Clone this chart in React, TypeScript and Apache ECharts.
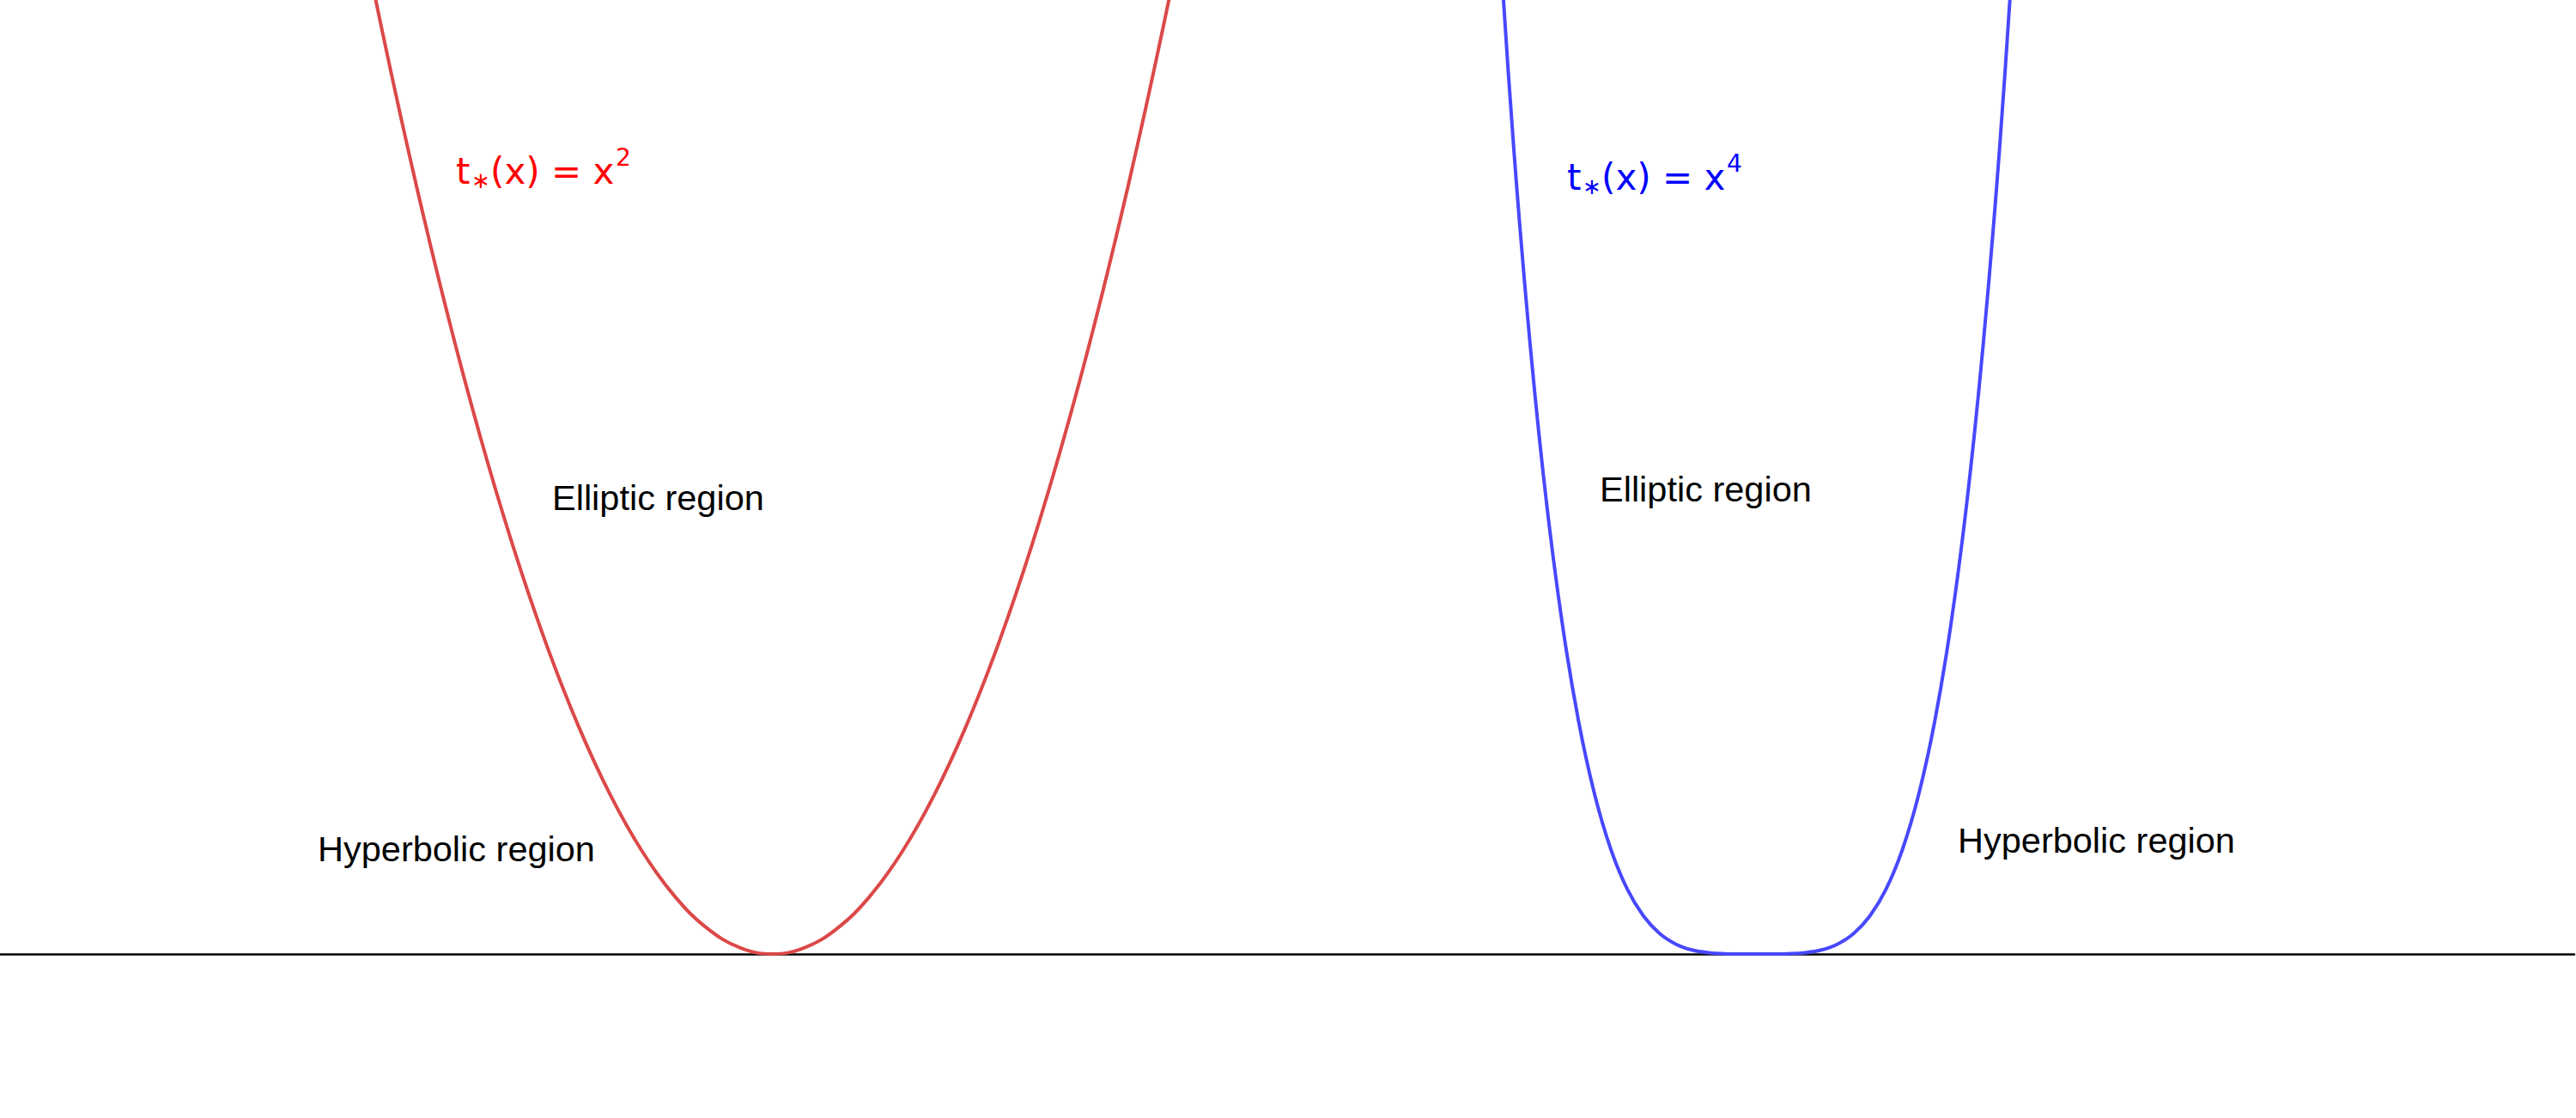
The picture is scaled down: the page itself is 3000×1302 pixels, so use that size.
import React, { useEffect, useRef } from "react";
import * as echarts from "echarts";

// Parabola t = x^2 (red curve), sample points
const redX = [-2.6, -2.4, -2.2, -2.0, -1.8, -1.6, -1.4, -1.2, -1.0, -0.8, -0.6, -0.4, -0.2, 0, 0.2, 0.4, 0.6, 0.8, 1.0, 1.2, 1.4, 1.6, 1.8, 2.0, 2.2, 2.4, 2.6];
const redT = [6.76, 5.76, 4.84, 4.0, 3.24, 2.56, 1.96, 1.44, 1.0, 0.64, 0.36, 0.16, 0.04, 0, 0.04, 0.16, 0.36, 0.64, 1.0, 1.44, 1.96, 2.56, 3.24, 4.0, 4.84, 5.76, 6.76];

// Quartic t = x^4 (blue curve), local x offsets and values
const blueX = [-1.6, -1.5, -1.4, -1.3, -1.2, -1.1, -1.0, -0.9, -0.8, -0.7, -0.6, -0.5, -0.4, -0.3, -0.2, -0.1, 0, 0.1, 0.2, 0.3, 0.4, 0.5, 0.6, 0.7, 0.8, 0.9, 1.0, 1.1, 1.2, 1.3, 1.4, 1.5, 1.6];
const blueT = [6.5536, 5.0625, 3.8416, 2.8561, 2.0736, 1.4641, 1.0, 0.6561, 0.4096, 0.2401, 0.1296, 0.0625, 0.0256, 0.0081, 0.0016, 0.0001, 0, 0.0001, 0.0016, 0.0081, 0.0256, 0.0625, 0.1296, 0.2401, 0.4096, 0.6561, 1.0, 1.4641, 2.0736, 2.8561, 3.8416, 5.0625, 6.5536];
const blueShift = 6.08;

const xRange = [-4.77, 11.13];
const tRange = [0, 6];

const regionLabels = ["Elliptic region", "Hyperbolic region"];

export default function App() {
  const ref = useRef<HTMLDivElement>(null);

  useEffect(() => {
    if (!ref.current) return;
    const chart = echarts.init(ref.current, null, { renderer: "svg" });

    const redData = redX.map((x, i) => [x, redT[i]]);
    const blueData = blueX.map((x, i) => [x + blueShift, blueT[i]]);

    const labelFont = "Liberation Sans, Arial, sans-serif";
    const mathFont = "DejaVu Sans, sans-serif";

    const regionText = (text: string, x: number, y: number) => ({
      type: "text",
      x,
      y,
      z: 10,
      style: {
        text,
        fontFamily: labelFont,
        fontSize: 41.5,
        fill: "#000",
        align: "left",
        verticalAlign: "middle",
      },
    });

    const formula = (x0: number, y0: number, color: string, power: string) => ({
      type: "group",
      x: x0,
      y: y0,
      children: [
        { type: "text", x: 0, y: 0, style: { text: "t", fontFamily: mathFont, fontSize: 42, fill: color, align: "left", verticalAlign: "middle" } },
        { type: "text", x: 18, y: 10, style: { text: "∗", fontFamily: mathFont, fontSize: 26, fill: color, align: "left", verticalAlign: "middle" } },
        { type: "text", x: 40, y: 0, style: { text: "(x) = x", fontFamily: mathFont, fontSize: 42, fill: color, align: "left", verticalAlign: "middle" } },
        { type: "text", x: 186, y: -16, style: { text: power, fontFamily: mathFont, fontSize: 28, fill: color, align: "left", verticalAlign: "middle" } },
      ],
    });

    chart.setOption({
      animation: false,
      backgroundColor: "#fff",
      grid: { left: 0, right: 2, top: 0, bottom: 191, containLabel: false },
      xAxis: {
        type: "value",
        min: xRange[0],
        max: xRange[1],
        axisLine: { show: true, onZero: false, lineStyle: { color: "#000", width: 2.5 } },
        axisTick: { show: false },
        axisLabel: { show: false },
        splitLine: { show: false },
      },
      yAxis: {
        type: "value",
        min: tRange[0],
        max: tRange[1],
        show: false,
        splitLine: { show: false },
      },
      series: [
        {
          type: "line",
          data: redData,
          showSymbol: false,
          smooth: 0.4,
          lineStyle: { color: "#dc4848", width: 4 },
          z: 5,
        },
        {
          type: "line",
          data: blueData,
          showSymbol: false,
          smooth: 0.4,
          lineStyle: { color: "#4848ff", width: 4 },
          z: 5,
        },
      ],
      graphic: [
        formula(531, 199.5, "#ff0000", "2"),
        formula(1825, 206.5, "#0000ff", "4"),
        regionText(regionLabels[0], 643, 579),
        regionText(regionLabels[1], 370, 988),
        regionText(regionLabels[0], 1863, 569),
        regionText(regionLabels[1], 2280, 978),
      ],
    });

    return () => chart.dispose();
  }, []);

  return (
    <div
      ref={ref}
      style={{ position: "fixed", left: 0, top: 0, width: 3000, height: 1302, background: "#fff" }}
    />
  );
}
